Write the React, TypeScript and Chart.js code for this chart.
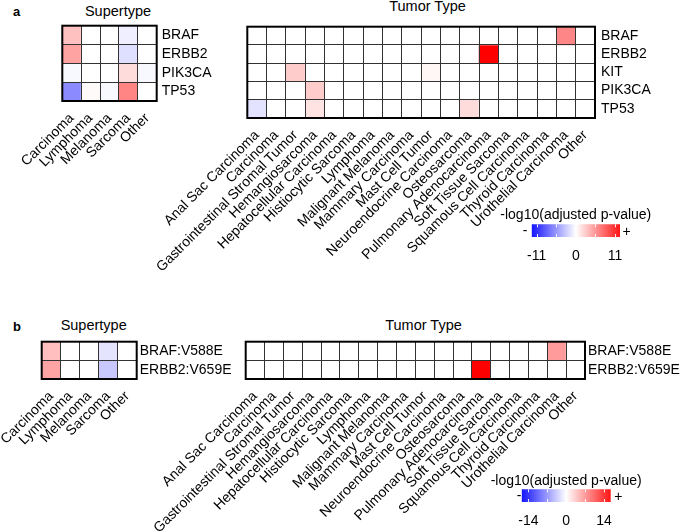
import React, { useEffect, useRef } from 'react';
import { Chart, registerables } from 'chart.js';

Chart.register(...registerables);

const FONT = "'Liberation Sans', Arial, Helvetica, sans-serif";
Chart.defaults.font.family = FONT;
Chart.defaults.color = '#000';

// ---------- data ----------
const SUPERTYPES = ['Carcinoma', 'Lymphoma', 'Melanoma', 'Sarcoma', 'Other'];
const TUMOR_TYPES = [
  'Anal Sac Carcinoma', 'Carcinoma', 'Gastrointestinal Stromal Tumor', 'Hemangiosarcoma',
  'Hepatocellular Carcinoma', 'Histiocytic Sarcoma', 'Lymphoma', 'Malignant Melanoma',
  'Mammary Carcinoma', 'Mast Cell Tumor', 'Neuroendocrine Carcinoma', 'Osteosarcoma',
  'Pulmonary Adenocarcinoma', 'Soft Tissue Sarcoma', 'Squamous Cell Carcinoma',
  'Thyroid Carcinoma', 'Urothelial Carcinoma', 'Other',
];
const GENES_A_SUPER = ['BRAF', 'ERBB2', 'PIK3CA', 'TP53'];
const GENES_A_TUMOR = ['BRAF', 'ERBB2', 'KIT', 'PIK3CA', 'TP53'];
const VARIANTS_B = ['BRAF:V588E', 'ERBB2:V659E'];

// signed -log10(adjusted p-value), panel a (supertype)
const A_SUPER_BRAF = [2.7, 0, 0, -0.7, 0];
const A_SUPER_ERBB2 = [4.0, 0, 0, -1.4, 0];
const A_SUPER_PIK3CA = [-0.3, 0, 0, 1.5, -0.3];
const A_SUPER_TP53 = [-5.0, 0.2, -0.3, 5.3, 0];

// panel a (tumor type)
const A_TUMOR_BRAF = [0, 0, 0, 0, 0, 0, 0, 0, 0, 0, 0, 0, 0, 0, 0, 0, 5.2, 0];
const A_TUMOR_ERBB2 = [0, 0, 0, 0, 0, 0, 0, 0, 0, 0, 0, 0, 11, 0, 0, 0, 0, 0];
const A_TUMOR_KIT = [0, 0, 2.2, 0, 0, 0, 0, 0, 0, 0.4, 0, 0, 0, 0, 0, 0, 0, 0];
const A_TUMOR_PIK3CA = [0, 0, 0, 2.2, 0, 0, 0, 0, 0, 0, 0, 0, 0, 0, 0, 0, 0, 0];
const A_TUMOR_TP53 = [-1.2, 0, 0, 1.2, 0, 0, 0, 0, 0, 0, 0, 1.5, 0, 0, 0, 0, 0, 0];

// panel b (supertype)
const B_SUPER_BRAF = [3.5, 0, 0, -1.5, 0];
const B_SUPER_ERBB2 = [5.0, 0, 0, -3.0, 0];

// panel b (tumor type)
const B_TUMOR_BRAF = [0, 0, 0, 0, 0, 0, 0, 0, 0, 0, 0, 0, 0, 0, 0, 0, 5.5, 0];
const B_TUMOR_ERBB2 = [0, 0, 0, 0, 0, 0, 0, 0, 0, 0, 0, 0, 14, 0, 0, 0, 0, 0];

const SCALE_A = 11;
const SCALE_B = 14;
const LEGEND_TICKS_A = [-11, 0, 11];
const LEGEND_TICKS_B = [-14, 0, 14];

// ---------- helpers ----------
function cellColor(v: number, max: number) {
  const f = Math.min(Math.abs(v) / max, 1);
  const c = Math.round(255 * (1 - f));
  return v >= 0 ? `rgb(255,${c},${c})` : `rgb(${c},${c},255)`;
}

const framePlugin = {
  id: 'frame',
  afterDraw(chart: any) {
    const { ctx, chartArea: a } = chart;
    ctx.save();
    ctx.strokeStyle = '#000';
    ctx.lineWidth = 2;
    ctx.strokeRect(a.left, a.top, a.right - a.left, a.bottom - a.top);
    ctx.restore();
  },
};

type Box = { l: number; t: number; w: number; h: number };

function Heatmap(props: {
  cols: string[]; rows: string[]; values: number[][]; max: number; box: Box;
  yW: number; xH: number; yPad: number; xPad: number;
}) {
  const { cols, rows, values, max, box, yW, xH, yPad, xPad } = props;
  const ref = useRef<HTMLCanvasElement>(null);
  const left = Math.floor(box.l - 260);
  const top = Math.floor(box.t - 20);
  const padL = box.l - left;
  const padT = box.t - top;
  const width = Math.floor(padL + box.w + yW);
  const height = Math.floor(padT + box.h + xH);
  useEffect(() => {
    const n = rows.length;
    const chart = new Chart(ref.current as HTMLCanvasElement, {
      type: 'bar',
      data: {
        labels: cols,
        datasets: rows.map((r, i) => ({
          label: r,
          data: cols.map(() => [i, i + 1]),
          backgroundColor: values[i].map((v) => cellColor(v, max)),
          borderWidth: 0,
          barPercentage: 1,
          categoryPercentage: 1,
          grouped: false,
        })),
      } as any,
      options: {
        responsive: false,
        animation: false,
        devicePixelRatio: 1,
        layout: { padding: { left: padL, top: padT, right: width - padL - box.w - yW, bottom: 0 } },
        plugins: { legend: { display: false }, tooltip: { enabled: false } },
        scales: {
          x: {
            type: 'category',
            offset: true,
            grid: { offset: true, color: '#333', lineWidth: 1, drawTicks: false, z: 1 },
            border: { display: false },
            ticks: { minRotation: 45, maxRotation: 45, autoSkip: false, padding: xPad, font: { size: 14 } },
            afterFit: (s: any) => { s.height = xH; },
          },
          y: {
            type: 'linear',
            position: 'right',
            reverse: true,
            min: 0,
            max: n,
            afterBuildTicks: (ax: any) => {
              const t: any[] = [];
              for (let i = 0; i <= n; i++) {
                t.push({ value: i });
                if (i < n) t.push({ value: i + 0.5 });
              }
              ax.ticks = t;
            },
            grid: {
              drawTicks: false,
              lineWidth: 1,
              z: 1,
              color: (c: any) => (c.tick && Number.isInteger(c.tick.value) ? '#333' : 'rgba(0,0,0,0)'),
            },
            border: { display: false },
            ticks: {
              autoSkip: false,
              padding: yPad,
              font: { size: 14 },
              callback: (v: any) => (Number.isInteger(v) ? '' : rows[Math.floor(v)]),
            },
            afterFit: (s: any) => { s.width = yW; },
          },
        },
      } as any,
      plugins: [framePlugin],
    });
    return () => chart.destroy();
  }, []);
  return (
    <canvas
      ref={ref}
      width={width}
      height={height}
      style={{ position: 'absolute', left, top, width, height }}
    />
  );
}

function ColorLegend(props: { max: number; extent: number; ticks: number[]; box: Box }) {
  const { max, extent, ticks, box } = props;
  const ref = useRef<HTMLCanvasElement>(null);
  const left = Math.floor(box.l - 30);
  const top = Math.floor(box.t - 6);
  const padL = box.l - left;
  const padT = box.t - top;
  const xH = 24;
  const width = Math.ceil(padL + box.w + 30);
  const height = Math.ceil(padT + box.h + xH);
  useEffect(() => {
    const marks = {
      id: 'marks',
      afterDatasetsDraw(chart: any) {
        const { ctx, chartArea: a, scales } = chart;
        ctx.save();
        ctx.strokeStyle = 'rgba(255,255,255,0.9)';
        ctx.lineWidth = 1;
        [-max, -max / 2, 0, max / 2, max].forEach((v) => {
          const x = Math.round(scales.x.getPixelForValue(v)) + 0.5;
          ctx.beginPath();
          ctx.moveTo(x, a.top);
          ctx.lineTo(x, a.top + 3);
          ctx.moveTo(x, a.bottom - 3);
          ctx.lineTo(x, a.bottom);
          ctx.stroke();
        });
        ctx.restore();
      },
    };
    const chart = new Chart(ref.current as HTMLCanvasElement, {
      type: 'bar',
      data: {
        labels: [''],
        datasets: [{
          data: [[-extent, extent]],
          backgroundColor: (c: any) => {
            const a = c.chart.chartArea;
            if (!a) return '#fff';
            const g = c.chart.ctx.createLinearGradient(a.left, 0, a.right, 0);
            g.addColorStop(0, 'rgb(20,20,255)');
            g.addColorStop(0.5, 'rgb(255,255,255)');
            g.addColorStop(1, 'rgb(255,20,20)');
            return g;
          },
          borderWidth: 0,
          barPercentage: 1,
          categoryPercentage: 1,
        }],
      } as any,
      options: {
        indexAxis: 'y',
        responsive: false,
        animation: false,
        devicePixelRatio: 1,
        layout: { padding: { left: padL, top: padT, right: width - padL - box.w, bottom: 0 } },
        plugins: { legend: { display: false }, tooltip: { enabled: false } },
        scales: {
          x: {
            type: 'linear',
            min: -extent,
            max: extent,
            afterBuildTicks: (ax: any) => { ax.ticks = ticks.map((v) => ({ value: v })); },
            grid: { display: false },
            border: { display: false },
            ticks: { padding: 3, font: { size: 14 } },
            afterFit: (s: any) => { s.height = xH; },
          },
          y: { type: 'category', display: false },
        },
      } as any,
      plugins: [marks],
    });
    return () => chart.destroy();
  }, []);
  return (
    <canvas
      ref={ref}
      width={width}
      height={height}
      style={{ position: 'absolute', left, top, width, height }}
    />
  );
}

function Label(props: { x: number; baseline: number; text: string; size?: number; bold?: boolean; anchor?: string }) {
  const { x, baseline, text, size = 14, bold = false, anchor = 'center' } = props;
  const top = baseline - 0.8465 * size;
  return (
    <div
      style={{
        position: 'absolute',
        left: x,
        top,
        fontFamily: FONT,
        fontSize: size,
        lineHeight: `${size}px`,
        fontWeight: bold ? 700 : 400,
        whiteSpace: 'nowrap',
        color: '#000',
        transform: anchor === 'center' ? 'translateX(-50%)' : 'none',
      }}
    >
      {text}
    </div>
  );
}

export default function App() {
  return (
    <div style={{ position: 'absolute', left: 0, top: 0, width: 685, height: 532, overflow: 'hidden', background: '#fff' }}>
      {/* panel a */}
      <Label x={13} baseline={15.7} text="a" size={13} bold anchor="left" />
      <Label x={118} baseline={16} text="Supertype" size={14.5} />
      <Label x={427.5} baseline={11} text="Tumor Type" size={14.5} />
      <Heatmap
        cols={SUPERTYPES}
        rows={GENES_A_SUPER}
        values={[A_SUPER_BRAF, A_SUPER_ERBB2, A_SUPER_PIK3CA, A_SUPER_TP53]}
        max={SCALE_A}
        box={{ l: 62.3, t: 25.7, w: 94.4, h: 75.3 }}
        yW={70}
        xH={90}
        yPad={5}
        xPad={9}
      />
      <Heatmap
        cols={TUMOR_TYPES}
        rows={GENES_A_TUMOR}
        values={[A_TUMOR_BRAF, A_TUMOR_ERBB2, A_TUMOR_KIT, A_TUMOR_PIK3CA, A_TUMOR_TP53]}
        max={SCALE_A}
        box={{ l: 247.3, t: 26.7, w: 347.7, h: 91.7 }}
        yW={89}
        xH={190}
        yPad={6}
        xPad={9}
      />
      <Label x={575.8} baseline={219} text="-log10(adjusted p-value)" size={14} />
      <Label x={525} baseline={234.6} text="-" size={14} />
      <Label x={626.7} baseline={235.6} text="+" size={14} />
      <ColorLegend max={SCALE_A} extent={12.4} ticks={LEGEND_TICKS_A} box={{ l: 531.7, t: 224.3, w: 88.3, h: 12.4 }} />

      {/* panel b */}
      <Label x={13} baseline={330.7} text="b" size={13} bold anchor="left" />
      <Label x={93.7} baseline={330.7} text="Supertype" size={14.5} />
      <Label x={423.5} baseline={330} text="Tumor Type" size={14.5} />
      <Heatmap
        cols={SUPERTYPES}
        rows={VARIANTS_B}
        values={[B_SUPER_BRAF, B_SUPER_ERBB2]}
        max={SCALE_B}
        box={{ l: 41.7, t: 341.7, w: 95, h: 37.6 }}
        yW={100}
        xH={90}
        yPad={3}
        xPad={9}
      />
      <Heatmap
        cols={TUMOR_TYPES}
        rows={VARIANTS_B}
        values={[B_TUMOR_BRAF, B_TUMOR_ERBB2]}
        max={SCALE_B}
        box={{ l: 245.7, t: 341.7, w: 339.3, h: 37.6 }}
        yW={99}
        xH={175}
        yPad={3}
        xPad={9}
      />
      <Label x={566.2} baseline={485} text="-log10(adjusted p-value)" size={14} />
      <Label x={519} baseline={499.4} text="-" size={14} />
      <Label x={618.3} baseline={500.4} text="+" size={14} />
      <ColorLegend max={SCALE_B} extent={16.46} ticks={LEGEND_TICKS_B} box={{ l: 521.7, t: 489.3, w: 89, h: 12.4 }} />
    </div>
  );
}
